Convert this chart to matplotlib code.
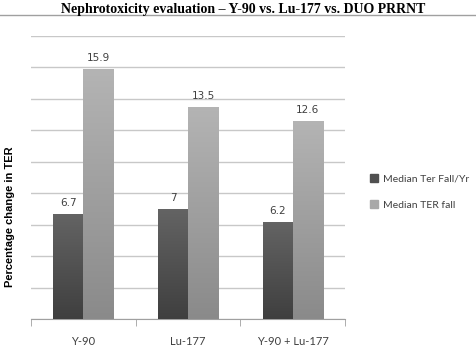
import matplotlib
matplotlib.use("Agg")
import matplotlib.pyplot as plt
import numpy as np
from matplotlib.colors import LinearSegmentedColormap

categories = ["Y-90", "Lu-177", "Y-90 + Lu-177"]
ter_fall_yr = [6.7, 7, 6.2]
ter_fall = [15.9, 13.5, 12.6]
series_names = ["Median Ter Fall/Yr", "Median TER fall"]
value_labels_yr = ["6.7", "7", "6.2"]
value_labels_fall = ["15.9", "13.5", "12.6"]

fig = plt.figure(figsize=(4.77, 3.51), dpi=100)
ax = fig.add_axes([0.065, 0.0912, 0.658, 0.8062])

x = np.arange(len(categories))
w = 0.287
b1 = ax.bar(x - w/2, ter_fall_yr, w, color="#505050", label=series_names[0], zorder=3)
b2 = ax.bar(x + w/2, ter_fall, w, color="#9c9c9c", label=series_names[1], zorder=3)

cmap_dark = LinearSegmentedColormap.from_list("d", ["#3f3f3f", "#646464"])
cmap_light = LinearSegmentedColormap.from_list("l", ["#8a8a8a", "#b4b4b4"])
grad = np.linspace(0, 1, 256).reshape(-1, 1)
for bars, cm in ((b1, cmap_dark), (b2, cmap_light)):
    for p in bars:
        x0, y0 = p.get_x(), p.get_y()
        im = ax.imshow(grad, cmap=cm, origin="lower", aspect="auto",
                       extent=(x0, x0 + p.get_width(), y0, y0 + p.get_height()), zorder=4)
        im.set_clip_path(p)

for bars, labs in ((b1, value_labels_yr), (b2, value_labels_fall)):
    for p, t in zip(bars, labs):
        ax.annotate(t, (p.get_x() + p.get_width()/2, p.get_height()), xytext=(0, 4),
                    textcoords="offset points", ha="center", va="bottom",
                    fontsize=7.5, color="#404040", family="DejaVu Sans")

ax.set_xlim(-0.5, 2.5)
ax.set_ylim(0, 18)
ax.set_yticks(np.arange(0, 19, 2))
ax.yaxis.grid(True, color="#c8c8c8", lw=1, zorder=0)
ax.tick_params(axis="y", length=0, labelleft=False)
for s in ("top", "right", "left"):
    ax.spines[s].set_visible(False)
ax.spines["bottom"].set_color("#a0a0a0")
ax.set_xticks(x)
ax.set_xticklabels(categories, fontsize=8, color="#404040", family="Lato")
ax.tick_params(axis="x", which="major", length=0, pad=12)
ax.set_xticks([-0.5, 0.5, 1.5, 2.5], minor=True)
ax.tick_params(axis="x", which="minor", length=5, color="#a0a0a0", direction="out")

ax.set_ylabel("Percentage change in TER", fontsize=8, fontweight="bold",
              family="Liberation Sans")
ax.yaxis.set_label_coords(-0.05, 0.36)

handles = [plt.Rectangle((0, 0), 1, 1, color="#505050"), plt.Rectangle((0, 0), 1, 1, color="#a8a8a8")]
leg = fig.legend(handles, series_names, loc="upper left", bbox_to_anchor=(0.757, 0.53),
                 frameon=False, handlelength=0.7, handleheight=0.7,
                 handletextpad=0.5, labelspacing=1.6, prop={"family": "Lato", "size": 7.5})
for t in leg.get_texts():
    t.set_color("#404040")

fig.text(0.51, 0.973, "Nephrotoxicity evaluation – Y-90 vs. Lu-177 vs. DUO PRRNT",
         ha="center", va="center", fontsize=10, fontweight="bold", family="Liberation Serif")
fig.add_artist(plt.Line2D([0, 1], [0.958, 0.958], color="#a0a0a0", lw=1, transform=fig.transFigure))

fig.savefig("out.png", dpi=100)
